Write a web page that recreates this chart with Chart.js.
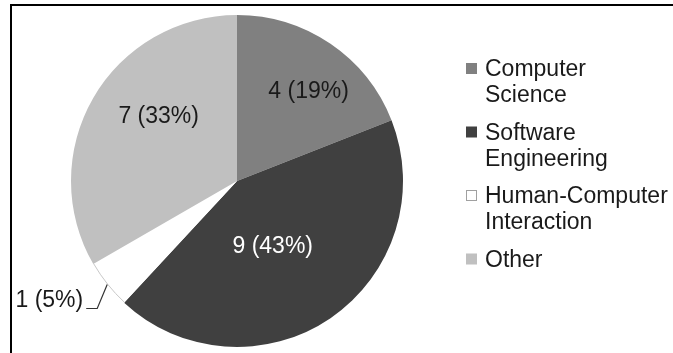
<!DOCTYPE html>
<html>
<head>
<meta charset="utf-8">
<script src="https://cdn.jsdelivr.net/npm/chart.js@4/dist/chart.umd.min.js"></script>
<style>
  html, body { margin: 0; padding: 0; background: #ffffff; }
  #wrap { position: relative; width: 673px; height: 353px; overflow: hidden; }
  #frame { position: absolute; left: 10px; top: 4px; width: 700px; height: 400px; border: 2px solid #000; box-sizing: border-box; pointer-events: none; }
  canvas { position: absolute; left: 0; top: 0; }
</style>
</head>
<body>
<div id="wrap">
  <canvas id="c" width="673" height="353"></canvas>
  <div id="frame"></div>
</div>
<script>
// ---- data ----
const categories = ['Computer Science', 'Software Engineering', 'Human-Computer Interaction', 'Other'];
const counts = [4, 9, 1, 7];
const percents = [19, 43, 5, 33];
const legendLines = [['Computer', 'Science'], ['Software', 'Engineering'], ['Human-Computer', 'Interaction'], ['Other']];

// ---- styles ----
const sliceColors = ['#808080', '#404040', '#ffffff', '#c0c0c0'];
const labelColors = ['#1a1a1a', '#ffffff', '#1a1a1a', '#1a1a1a'];
const labelAngleFrac = [0.564, 0.537, 0.5, 0.578];
const labelRadiusFrac = [0.69, 0.45, 1.0, 0.61];
const FONT = '"Liberation Sans", Arial, sans-serif';

const labelsPlugin = {
  id: 'sliceLabels',
  afterDatasetsDraw(chart) {
    const ctx = chart.ctx;
    const meta = chart.getDatasetMeta(0);
    ctx.save();
    ctx.font = '23px ' + FONT;
    meta.data.forEach((arc, i) => {
      const p = arc.getProps(['x', 'y', 'startAngle', 'endAngle', 'outerRadius'], true);
      const text = counts[i] + ' (' + percents[i] + '%)';
      const a = p.startAngle + labelAngleFrac[i] * (p.endAngle - p.startAngle);
      if (labelRadiusFrac[i] >= 1) {
        // faint outline of the white slice's outer arc
        ctx.strokeStyle = '#c8c8c8';
        ctx.lineWidth = 1;
        ctx.beginPath();
        ctx.arc(p.x, p.y, p.outerRadius - 0.5, p.startAngle, p.endAngle);
        ctx.stroke();
        // outside label with leader line
        const ex = p.x + Math.cos(a) * p.outerRadius;
        const ey = p.y + Math.sin(a) * p.outerRadius;
        const kx = ex - 10, ky = ey + 24;
        const lx = kx - 11;
        ctx.strokeStyle = '#333333';
        ctx.lineWidth = 1.2;
        ctx.beginPath();
        ctx.moveTo(ex, ey);
        ctx.lineTo(kx, ky);
        ctx.lineTo(lx, ky);
        ctx.stroke();
        ctx.fillStyle = labelColors[i];
        ctx.textAlign = 'right';
        ctx.textBaseline = 'alphabetic';
        ctx.fillText(text, lx - 3, ky - 1);
      } else {
        const r = p.outerRadius * labelRadiusFrac[i];
        const x = p.x + Math.cos(a) * r;
        const y = p.y + Math.sin(a) * r;
        ctx.fillStyle = labelColors[i];
        ctx.textAlign = 'center';
        ctx.textBaseline = 'middle';
        ctx.fillText(text, x, y);
      }
    });
    ctx.restore();
  }
};

const legendPlugin = {
  id: 'sideLegend',
  afterDraw(chart) {
    const ctx = chart.ctx;
    ctx.save();
    ctx.font = '23px ' + FONT;
    ctx.textAlign = 'left';
    ctx.textBaseline = 'alphabetic';
    const boxX = 466, textX = 485, firstBase = 76, step = 63.5, lineH = 26, box = 11;
    legendLines.forEach((lines, i) => {
      const base = firstBase + i * step;
      ctx.fillStyle = sliceColors[i];
      ctx.fillRect(boxX, base - 13, box, box);
      if (i === 2) {
        ctx.strokeStyle = '#a0a0a0';
        ctx.lineWidth = 1;
        ctx.strokeRect(boxX + 0.5, base - 12.5, box - 1, box - 1);
      }
      ctx.fillStyle = '#1a1a1a';
      lines.forEach((ln, j) => ctx.fillText(ln, textX, base + j * lineH));
    });
    ctx.restore();
  }
};

new Chart(document.getElementById('c'), {
  type: 'pie',
  data: {
    labels: categories,
    datasets: [{
      data: counts,
      backgroundColor: sliceColors,
      borderWidth: 0
    }]
  },
  options: {
    responsive: false,
    animation: false,
    rotation: 0,
    layout: { padding: { left: 71, right: 270, top: 15, bottom: 6 } },
    plugins: { legend: { display: false }, tooltip: { enabled: false } }
  },
  plugins: [labelsPlugin, legendPlugin]
});
</script>
</body>
</html>
